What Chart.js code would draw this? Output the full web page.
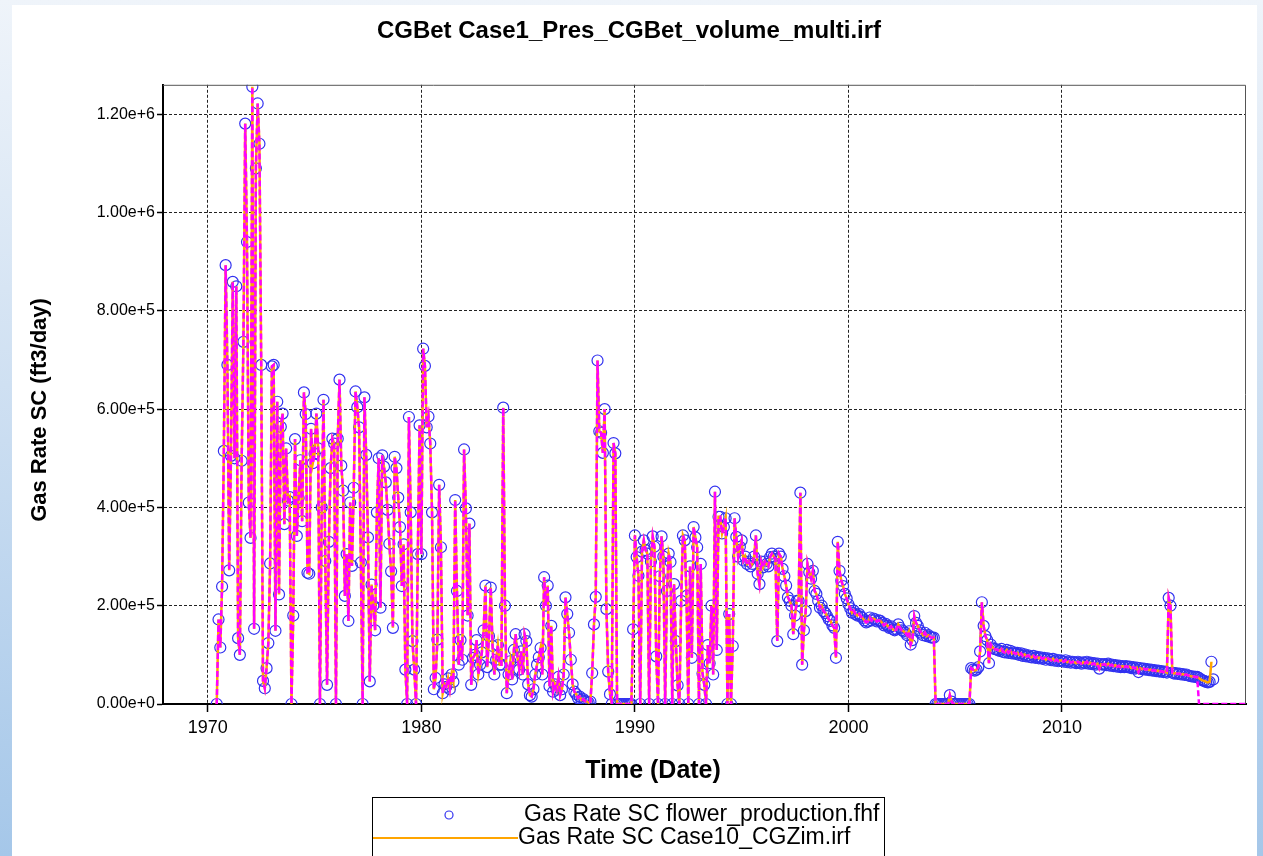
<!DOCTYPE html>
<html>
<head>
<meta charset="utf-8">
<script src="https://cdn.jsdelivr.net/npm/chart.js@4.4.1/dist/chart.umd.min.js"></script>
<style>
  html, body { margin: 0; padding: 0; }
  body {
    width: 1263px; height: 856px; position: relative; overflow: hidden;
    background: linear-gradient(to bottom, #eff4fa 0%, #cfe0f2 45%, #a5c7e9 100%);
  }
  #panel { position: absolute; left: 12px; top: 5px; width: 1245px; height: 851px; background: #fff; }
  #chart { position: absolute; left: 0; top: 0; }
</style>
</head>
<body>
<div id="panel"></div>
<canvas id="chart" width="1263" height="856"></canvas>
<script>
const FONT = 'Arial, "Liberation Sans", sans-serif';

const chartTitle = "CGBet Case1_Pres_CGBet_volume_multi.irf";
const seriesNames = [
  "Gas Rate SC flower_production.fhf",
  "Gas Rate SC Case10_CGZim.irf",
  "Gas Rate SC Case1_Pres_CGBet_volume_multi.irf",
];
const xTicks = [1970, 1980, 1990, 2000, 2010];
const yTicks = [0, 200000, 400000, 600000, 800000, 1000000, 1200000];

// monthly gas rate, thousand ft3/day
// Jun 1970 - Dec 1979
const rates1970s = [
  0, 172, 115, 239, 515, 893, 690,
  272, 505, 859, 500, 850, 134, 100, 495, 737, 1181, 940, 410,
  338, 1256, 153, 1090, 1222, 1140, 690, 47, 32, 73, 124, 286,
  687, 690, 149, 615, 223, 564, 591, 366, 520, 414, 421, 0,
  180, 539, 342, 419, 496, 372, 634, 590, 267, 265, 560, 490,
  509, 591, 520, 0, 400, 619, 291, 39, 330, 480, 540, 530,
  0, 540, 660, 485, 434, 220, 305, 169, 410, 281, 440, 636,
  604, 563, 288, 0, 624, 507, 339, 46, 243, 200, 150, 390,
  500, 196, 506, 483, 451, 395, 326, 270, 155, 503, 480, 420,
  360, 240, 325, 70, 0, 584, 390, 128, 70, 0, 305, 567,
];
// Jan 1980 - Dec 1989
const rates1980s = [
  305, 723, 688, 563, 585, 530, 390, 30, 53, 131, 446, 319,
  22, 40, 35, 52, 30, 60, 45, 415, 230, 80, 130, 90,
  518, 398, 180, 367, 39, 94, 100, 130, 60, 80, 105, 150,
  241, 75, 138, 237, 118, 60, 90, 120, 80, 80, 603, 200,
  22, 60, 87, 50, 110, 142, 95, 70, 107, 60, 142, 128,
  40, 18, 15, 30, 60, 80, 95, 114, 60, 258, 200, 241,
  36, 159, 25, 40, 29, 55, 18, 30, 60, 217, 183, 145,
  90, 40, 25, 20, 12, 15, 8, 10, 6, 5, 3, 5,
  63, 162, 218, 699, 555, 552, 511, 600, 193, 66, 20, 0,
  531, 510, 0, 0, 0, 0, 0, 0, 0, 0, 0, 152,
];
// Jan 1990 - Dec 1999
const rates1990s = [
  343, 299, 261, 0, 310, 333, 313, 306, 0, 290, 341, 320,
  97, 0, 260, 341, 300, 0, 230, 306, 289, 0, 244, 128,
  38, 0, 210, 343, 333, 220, 0, 280, 94, 360, 339, 319,
  0, 285, 62, 39, 0, 120, 83, 200, 60, 432, 110, 381,
  381, 347, 360, 378, 0, 183, 0, 118, 378, 340, 300, 320,
  333, 292, 300, 285, 290, 280, 285, 300, 343, 265, 244, 290,
  278, 290, 285, 280, 299, 306, 300, 295, 128, 306, 300, 275,
  260, 241, 217, 210, 200, 142, 180, 210, 210, 430, 80, 150,
  189, 285, 268, 255, 271, 230, 224, 210, 196, 200, 189, 185,
  179, 172, 169, 160, 155, 94, 330, 271, 251, 240, 224, 215,
];
// Jan 2000 - Dec 2009
const rates2000s = [
  203, 195, 186, 190, 183, 180, 183, 178, 175, 170, 166, 168,
  176, 170, 174, 172, 168, 170, 169, 165, 160, 163, 159, 155,
  158, 152, 150, 152, 162, 155, 150, 148, 145, 140, 148, 121,
  130, 179, 165, 159, 150, 145, 140, 145, 138, 140, 136, 135,
  135, 0, 0, 0, 0, 0, 0, 0, 0, 18, 5, 0,
  0, 0, 0, 0, 0, 0, 0, 0, 0, 73, 70, 68,
  70, 75, 107, 207, 159, 138, 130, 83, 121, 115, 112, 111,
  110, 108, 112, 106, 105, 110, 104, 108, 103, 105, 102, 104,
  100, 103, 98, 101, 97, 99, 96, 95, 98, 94, 96, 93,
  95, 92, 94, 90, 93, 91, 89, 92, 88, 90, 87, 89,
];
// Jan 2010 - Feb 2017
const rates2010s = [
  88, 86, 89, 85, 87, 84, 86, 85, 83, 86, 84, 82,
  85, 83, 86, 82, 84, 81, 83, 80, 82, 72, 81, 80,
  81, 79, 82, 78, 80, 77, 79, 76, 78, 75, 77, 75,
  77, 75, 76, 73, 75, 72, 74, 65, 73, 71, 72, 70,
  71, 69, 70, 68, 69, 67, 68, 66, 67, 65, 66, 64,
  216, 200, 64, 62, 63, 61, 62, 60, 61, 59, 60, 58,
  57, 56, 56, 55, 55, 53, 50, 48, 47, 45, 44, 45,
  86, 50,
];

// Case1 shut in after May 2016
const case1TailDates = [2016.42, 2019.0];
const case1TailRates = [0, 0];

function monthly(year, month, rates) {
  return rates.map((r, i) => ({ x: year + (month + i) / 12, y: r * 1000 }));
}

const history = [
  ...monthly(1970, 5, rates1970s),
  ...monthly(1980, 0, rates1980s),
  ...monthly(1990, 0, rates1990s),
  ...monthly(2000, 0, rates2000s),
  ...monthly(2010, 0, rates2010s),
];
const case10 = history.filter(p => p.x < 2017.05);
const case1 = history.filter(p => p.x < 2016.4).concat(
  case1TailDates.map((d, i) => ({ x: d, y: case1TailRates[i] * 1000 }))
);

const frame = {
  id: "frame",
  afterDraw(chart) {
    const { ctx, chartArea: a } = chart;
    ctx.save();
    ctx.strokeStyle = "#555";
    ctx.lineWidth = 1;
    ctx.beginPath();
    ctx.moveTo(a.left, a.top + 0.5);
    ctx.lineTo(a.right - 0.5, a.top + 0.5);
    ctx.lineTo(a.right - 0.5, a.bottom);
    ctx.stroke();

    // axis titles
    ctx.fillStyle = "#000";
    ctx.textAlign = "center";
    ctx.textBaseline = "middle";
    ctx.font = "bold 25px " + FONT;
    ctx.fillText("Time (Date)", 653, 771);
    ctx.save();
    ctx.translate(40, 410);
    ctx.rotate(-Math.PI / 2);
    ctx.font = "bold 22px " + FONT;
    ctx.fillText("Gas Rate SC (ft3/day)", 0, 0);
    ctx.restore();

    // legend box (runs off the bottom edge)
    const ds = chart.data.datasets;
    ctx.strokeStyle = "#000";
    ctx.strokeRect(372.5, 797.5, 512, 80);
    ctx.textAlign = "left";
    ctx.font = "23px " + FONT;
    ctx.beginPath();
    ctx.arc(449, 815, 4, 0, Math.PI * 2);
    ctx.strokeStyle = ds[0].pointBorderColor;
    ctx.lineWidth = 1.2;
    ctx.stroke();
    ctx.fillText(ds[0].label, 524, 815);
    ctx.beginPath();
    ctx.moveTo(373, 838);
    ctx.lineTo(518, 838);
    ctx.strokeStyle = ds[1].borderColor;
    ctx.lineWidth = 2;
    ctx.stroke();
    ctx.fillText(ds[1].label, 518, 838);
    ctx.restore();
  },
};

new Chart(document.getElementById("chart"), {
  type: "line",
  data: {
    datasets: [
      {
        label: seriesNames[0],
        data: history,
        showLine: false,
        pointRadius: 5.5,
        pointHoverRadius: 5.5,
        pointBorderWidth: 1.2,
        pointBorderColor: "rgb(50,50,240)",
        pointBackgroundColor: "rgba(0,0,0,0)",
        order: 3,
      },
      {
        label: seriesNames[1],
        data: case10,
        borderColor: "rgb(255,165,0)",
        borderWidth: 2.5,
        pointRadius: 0,
        order: 2,
      },
      {
        label: seriesNames[2],
        data: case1,
        borderColor: "rgb(255,0,255)",
        borderWidth: 2.5,
        borderDash: [6, 3],
        pointRadius: 0,
        order: 1,
      },
    ],
  },
  options: {
    responsive: false,
    animation: false,
    events: [],
    layout: { padding: { left: 12, right: 17, top: 0, bottom: 0 } },
    plugins: {
      legend: { display: false },
      tooltip: { enabled: false },
      title: {
        display: true,
        text: chartTitle,
        color: "#000",
        font: { family: FONT, size: 24, weight: "bold" },
        padding: { top: 17, bottom: 39 },
      },
    },
    scales: {
      x: {
        type: "linear",
        min: 1967.9,
        max: 2018.62,
        afterBuildTicks: (s) => { s.ticks = xTicks.map((v) => ({ value: v })); },
        afterFit: (s) => { s.height = 152; },
        ticks: {
          color: "#000",
          font: { family: FONT, size: 18 },
          padding: 5,
          maxRotation: 0,
          callback: (v) => String(v),
        },
        grid: { color: "#222", lineWidth: 1, tickLength: 8, tickColor: "#000", tickWidth: 1.5 },
        border: { display: true, color: "#000", width: 2, dash: [3, 2] },
      },
      y: {
        type: "linear",
        min: 0,
        max: 1260000,
        afterBuildTicks: (s) => { s.ticks = yTicks.map((v) => ({ value: v })); },
        afterFit: (s) => { s.width = 151; },
        ticks: {
          color: "#000",
          font: { family: FONT, size: 16 },
          padding: 2,
          callback: (v) => v.toExponential(2),
        },
        grid: { color: "#222", lineWidth: 1, tickLength: 6, tickColor: "#000", tickWidth: 1.5 },
        border: { display: true, color: "#000", width: 2, dash: [3, 2] },
      },
    },
  },
  plugins: [frame],
});
</script>
</body>
</html>
